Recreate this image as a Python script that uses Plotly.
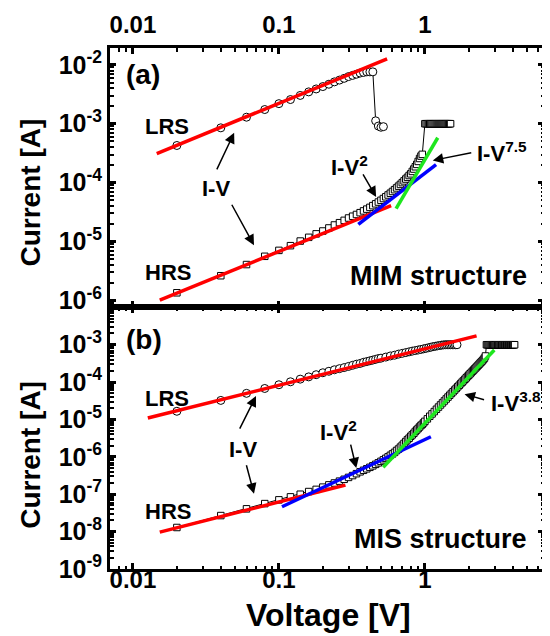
import plotly.graph_objects as go

# ---------------- data ----------------
# Panel (a): MIM structure
a_lrs_v = [0.02, 0.04, 0.06, 0.08, 0.10, 0.12, 0.14, 0.16, 0.18, 0.20, 0.22, 0.24, 0.26,
           0.28, 0.30, 0.32, 0.34, 0.36, 0.38, 0.40, 0.42, 0.44, 0.46, 0.48, 0.50, 0.52]
a_lrs_i = [4.27e-4, 8.51e-4, 1.29e-3, 1.74e-3, 2.19e-3, 2.57e-3, 3.02e-3, 3.47e-3, 3.89e-3,
           4.27e-3, 4.68e-3, 5.13e-3, 5.50e-3, 5.89e-3, 6.31e-3, 6.61e-3, 6.92e-3, 7.24e-3,
           7.41e-3, 7.59e-3, 7.59e-3, 7.59e-3, 1.12e-3, 9.12e-4, 8.71e-4, 8.91e-4]

a_hrs_v = [0.02, 0.04, 0.06, 0.08, 0.10, 0.12, 0.14, 0.16, 0.18, 0.20, 0.22, 0.24, 0.26,
           0.28, 0.30, 0.32, 0.34, 0.36, 0.38, 0.40, 0.42, 0.44, 0.46, 0.48, 0.50, 0.52,
           0.54, 0.56, 0.58, 0.60, 0.62, 0.64, 0.66, 0.68, 0.70, 0.72, 0.74, 0.76, 0.78,
           0.80, 0.82, 0.84, 0.86, 0.88, 0.90, 0.92, 0.94, 0.96,
           1.00, 1.02, 1.04, 1.06, 1.08, 1.10, 1.12, 1.14, 1.16, 1.18, 1.20, 1.22, 1.24,
           1.26, 1.28, 1.30, 1.32, 1.34, 1.36, 1.38, 1.40, 1.42, 1.44, 1.46, 1.48, 1.50]
a_hrs_i = [1.35e-6, 2.63e-6, 4.07e-6, 5.62e-6, 7.08e-6, 8.51e-6, 1.02e-5, 1.18e-5, 1.35e-5,
           1.51e-5, 1.70e-5, 1.91e-5, 2.09e-5, 2.29e-5, 2.51e-5, 2.69e-5, 2.88e-5, 3.09e-5,
           3.31e-5, 3.55e-5, 3.80e-5, 4.07e-5, 4.37e-5, 4.68e-5, 5.01e-5, 5.37e-5, 5.75e-5,
           6.17e-5, 6.61e-5, 7.08e-5, 7.59e-5, 8.13e-5, 8.71e-5, 9.33e-5, 1.00e-4, 1.07e-4,
           1.15e-4, 1.23e-4, 1.32e-4, 1.41e-4, 1.55e-4, 1.70e-4, 1.86e-4, 2.04e-4, 2.29e-4,
           2.57e-4, 2.82e-4, 3.02e-4,
           1.0e-3, 1.0e-3, 1.0e-3, 1.0e-3, 1.0e-3, 1.0e-3, 1.0e-3, 1.0e-3, 1.0e-3, 1.0e-3,
           1.0e-3, 1.0e-3, 1.0e-3, 1.0e-3, 1.0e-3, 1.0e-3, 1.0e-3, 1.0e-3, 1.0e-3, 1.0e-3,
           1.0e-3, 1.0e-3, 1.0e-3, 1.0e-3, 1.0e-3, 1.0e-3]

# fitted power-law lines (end points) for panel (a)
a_fit_lrs_v, a_fit_lrs_i = [0.01456, 0.551], [3.12e-4, 1.26e-2]
a_fit_hrs_v, a_fit_hrs_i = [0.01527, 0.587], [1.01e-6, 4.09e-5]
a_fit_v2_v, a_fit_v2_i = [0.35, 1.193], [1.95e-5, 2.02e-4]
a_fit_v75_v, a_fit_v75_i = [0.635, 1.225], [3.61e-5, 5.78e-4]

# Panel (b): MIS structure
b_lrs_v = [0.02, 0.04, 0.06, 0.08, 0.10, 0.12, 0.14, 0.16, 0.18, 0.20, 0.22, 0.24, 0.26,
           0.28, 0.30, 0.32, 0.34, 0.36, 0.38, 0.40, 0.42, 0.44, 0.46, 0.48, 0.50,
           0.54, 0.58, 0.62, 0.66, 0.70, 0.74, 0.78, 0.82, 0.86, 0.90, 0.94, 0.98, 1.02,
           1.06, 1.10, 1.14, 1.18, 1.22, 1.26, 1.30, 1.34, 1.38, 1.42, 1.46, 1.50, 1.54,
           1.58, 1.62, 1.66]
b_lrs_i = [1.66e-5, 3.24e-5, 5.01e-5, 6.76e-5, 8.51e-5, 1.02e-4, 1.20e-4, 1.38e-4, 1.58e-4,
           1.78e-4, 1.95e-4, 2.14e-4, 2.29e-4, 2.45e-4, 2.63e-4, 2.82e-4, 3.02e-4, 3.16e-4,
           3.39e-4, 3.55e-4, 3.72e-4, 3.89e-4, 4.07e-4, 4.27e-4, 4.37e-4,
           4.68e-4, 5.01e-4, 5.25e-4, 5.62e-4, 5.89e-4, 6.17e-4, 6.46e-4, 6.76e-4, 7.00e-4,
           7.24e-4, 7.50e-4, 7.76e-4, 8.04e-4, 8.32e-4, 8.60e-4, 8.91e-4, 9.12e-4, 9.33e-4,
           9.55e-4, 9.77e-4, 9.89e-4, 1.0e-3, 1.0e-3, 1.0e-3, 1.0e-3, 1.0e-3, 1.0e-3,
           1.0e-3, 1.0e-3]

b_hrs_v = [0.02, 0.04, 0.06, 0.08, 0.10, 0.12, 0.14, 0.16, 0.18, 0.20, 0.22, 0.24, 0.26,
           0.28, 0.30, 0.32, 0.34, 0.36, 0.38, 0.40, 0.42, 0.44, 0.46, 0.48, 0.50, 0.52,
           0.54, 0.56, 0.58, 0.60, 0.62, 0.64, 0.66, 0.68, 0.70, 0.72, 0.74, 0.76, 0.78,
           0.80, 0.82, 0.84, 0.86, 0.88, 0.90, 0.92, 0.94, 0.96, 0.98, 1.00,
           1.04, 1.08, 1.12, 1.16, 1.20, 1.24, 1.28, 1.32, 1.36, 1.40, 1.44, 1.48, 1.52,
           1.56, 1.60, 1.64, 1.68, 1.72, 1.76, 1.80, 1.84, 1.88, 1.92, 1.96, 2.00, 2.04,
           2.08, 2.12, 2.16, 2.20, 2.24, 2.28, 2.32, 2.36, 2.40, 2.44, 2.48, 2.52, 2.56,
           2.60,
           2.64, 2.68, 2.72, 2.76, 2.80, 2.84, 2.88, 2.92, 2.96, 3.00, 3.04, 3.08, 3.12,
           3.16, 3.20, 3.24, 3.28, 3.32, 3.36, 3.40, 3.44, 3.48, 3.52, 3.56, 3.60, 3.64,
           3.68, 3.72, 3.76, 3.80, 3.84, 3.88, 3.92, 3.96, 4.00, 4.04, 4.08, 4.12]
b_hrs_i = [1.29e-8, 2.69e-8, 4.07e-8, 5.62e-8, 7.08e-8, 8.51e-8, 1.00e-7, 1.18e-7, 1.35e-7,
           1.55e-7, 1.78e-7, 2.00e-7, 2.24e-7, 2.51e-7, 2.82e-7, 3.16e-7, 3.55e-7, 3.98e-7,
           4.37e-7, 4.79e-7, 5.25e-7, 5.75e-7, 6.31e-7, 6.92e-7, 7.59e-7, 8.32e-7, 9.12e-7,
           1.00e-6, 1.10e-6, 1.20e-6, 1.32e-6, 1.48e-6, 1.62e-6, 1.82e-6, 2.04e-6, 2.29e-6,
           2.57e-6, 2.88e-6, 3.16e-6, 3.55e-6, 3.89e-6, 4.27e-6, 4.79e-6, 5.25e-6, 5.75e-6,
           6.31e-6, 6.92e-6, 7.41e-6, 8.13e-6, 8.91e-6,
           1.04e-5, 1.22e-5, 1.41e-5, 1.63e-5, 1.88e-5, 2.15e-5, 2.45e-5, 2.78e-5, 3.14e-5,
           3.54e-5, 3.98e-5, 4.46e-5, 4.98e-5, 5.53e-5, 6.14e-5, 6.79e-5, 7.50e-5, 8.26e-5,
           9.10e-5, 9.98e-5, 1.09e-4, 1.19e-4, 1.30e-4, 1.42e-4, 1.54e-4, 1.67e-4, 1.81e-4,
           1.96e-4, 2.11e-4, 2.28e-4, 2.45e-4, 2.64e-4, 2.84e-4, 3.04e-4, 3.27e-4, 3.49e-4,
           3.73e-4, 4.05e-4, 4.40e-4, 5.00e-4,
           1.0e-3, 1.0e-3, 1.0e-3, 1.0e-3, 1.0e-3, 1.0e-3, 1.0e-3, 1.0e-3, 1.0e-3, 1.0e-3,
           1.0e-3, 1.0e-3, 1.0e-3, 1.0e-3, 1.0e-3, 1.0e-3, 1.0e-3, 1.0e-3, 1.0e-3, 1.0e-3,
           1.0e-3, 1.0e-3, 1.0e-3, 1.0e-3, 1.0e-3, 1.0e-3, 1.0e-3, 1.0e-3, 1.0e-3, 1.0e-3,
           1.0e-3, 1.0e-3, 1.0e-3, 1.0e-3, 1.0e-3, 1.0e-3, 1.0e-3, 1.0e-3]

b_fit_lrs_v, b_fit_lrs_i = [0.01265, 2.26], [1.10e-5, 1.73e-3]
b_fit_hrs_v, b_fit_hrs_i = [0.01527, 0.2857], [9.7e-9, 1.76e-7]
b_fit_v2_v, b_fit_v2_i = [0.105, 1.099], [4.62e-8, 3.45e-6]
b_fit_v38_v, b_fit_v38_i = [0.518, 2.99], [5.25e-7, 7.24e-4]

# tick labels
x_tick_vals = [0.01, 0.1, 1]
x_tick_text = ["0.01", "0.1", "1"]
ya_tick_vals = [1e-6, 1e-5, 1e-4, 1e-3, 1e-2]
ya_tick_text = ["10<sup>-6</sup>", "10<sup>-5</sup>", "10<sup>-4</sup>", "10<sup>-3</sup>", "10<sup>-2</sup>"]
yb_tick_vals = [1e-9, 1e-8, 1e-7, 1e-6, 1e-5, 1e-4, 1e-3]
yb_tick_text = ["10<sup>-9</sup>", "10<sup>-8</sup>", "10<sup>-7</sup>", "10<sup>-6</sup>",
                "10<sup>-5</sup>", "10<sup>-4</sup>", "10<sup>-3</sup>"]

# ---------------- figure ----------------
# the page adds an 8px body margin, so the figure is laid out 8px up/left
OFF = 8
W, H = 550 - OFF, 636 - OFF
REF_L, REF_R, REF_T, REF_B = 110, 547, 41, 569.3   # plot box in screenshot pixels
ML, MT = REF_L - OFF, REF_T - OFF
MR, MB = W - (REF_R - OFF), H - (REF_B - OFF)
PW, PH = REF_R - REF_L, REF_B - REF_T
SPLIT = (REF_B - 304) / PH

FONT = "Liberation Sans, Arial, sans-serif"
RED, BLUE, GREEN = "#ff0000", "#0000ff", "#1ee61e"

fig = go.Figure()


def data_trace(v, i, symbol, size, xa, ya):
    fig.add_trace(go.Scatter(
        x=v, y=i, mode="lines+markers", xaxis=xa, yaxis=ya,
        line=dict(color="black", width=1),
        marker=dict(symbol=symbol, size=size, color="white",
                    line=dict(color="black", width=1)),
        showlegend=False, hoverinfo="skip"))


def fit_trace(v, i, color, xa, ya):
    fig.add_trace(go.Scatter(
        x=v, y=i, mode="lines", xaxis=xa, yaxis=ya,
        line=dict(color=color, width=3.5), showlegend=False, hoverinfo="skip"))


data_trace(a_lrs_v, a_lrs_i, "circle", 8, "x", "y")
data_trace(a_hrs_v, a_hrs_i, "square", 6.5, "x", "y")
fit_trace(a_fit_lrs_v, a_fit_lrs_i, RED, "x", "y")
fit_trace(a_fit_hrs_v, a_fit_hrs_i, RED, "x", "y")
fit_trace(a_fit_v2_v, a_fit_v2_i, BLUE, "x", "y")
fit_trace(a_fit_v75_v, a_fit_v75_i, GREEN, "x", "y")

data_trace(b_lrs_v, b_lrs_i, "circle", 8, "x2", "y2")
data_trace(b_hrs_v, b_hrs_i, "square", 6.5, "x2", "y2")
fit_trace(b_fit_lrs_v, b_fit_lrs_i, RED, "x2", "y2")
fit_trace(b_fit_hrs_v, b_fit_hrs_i, RED, "x2", "y2")
fit_trace(b_fit_v2_v, b_fit_v2_i, BLUE, "x2", "y2")
fit_trace(b_fit_v38_v, b_fit_v38_i, GREEN, "x2", "y2")


def minor_vals(lo_exp, hi_exp):
    return [m * 10.0 ** k for k in range(lo_exp, hi_exp + 1) for m in range(2, 10)]


def tickfont(size):
    return dict(family=FONT, size=size, color="black", weight="bold")


def axis_style(tickvals, ticktext, minor, rng, fsize=24, **kw):
    d = dict(type="log", range=rng, tickmode="array", tickvals=tickvals, ticktext=ticktext,
             showline=True, linewidth=3, linecolor="black", mirror="ticks",
             ticks="inside", ticklen=6, tickwidth=2.5, tickcolor="black",
             tickfont=tickfont(fsize), showgrid=False, zeroline=False,
             minor=dict(tickmode="array", tickvals=minor, ticks="inside", ticklen=3.5,
                        tickwidth=2, tickcolor="black", showgrid=False))
    d.update(kw)
    return d


xr = [-2.157, 0.816]
fig.update_layout(
    width=W, height=H, margin=dict(l=ML, r=MR, t=MT, b=MB),
    paper_bgcolor="white", plot_bgcolor="white",
    xaxis=axis_style(x_tick_vals, x_tick_text, minor_vals(-3, 1), xr,
                     side="top", anchor="y", domain=[0, 1], ticklabelstandoff=2),
    xaxis2=axis_style(x_tick_vals, x_tick_text, minor_vals(-3, 1), xr,
                      side="bottom", anchor="y2", domain=[0, 1], ticklabelstandoff=-13),
    yaxis=axis_style(ya_tick_vals, ya_tick_text, minor_vals(-7, -2), [-6.117, -1.715],
                     fsize=25, anchor="x", domain=[SPLIT, 1], ticklabelstandoff=0),
    yaxis2=axis_style(yb_tick_vals, yb_tick_text, minor_vals(-10, -3), [-9, -2],
                      fsize=25, anchor="x2", domain=[0, SPLIT], ticklabelstandoff=0),
)


def PX(x):  # screenshot x -> paper fraction
    return (x - REF_L) / PW


def PY(y):  # screenshot y -> paper fraction
    return (REF_B - y) / PH


def label(text, x, y, size=22, xanchor="center", angle=0):
    fig.add_annotation(text=text, x=PX(x), y=PY(y), xref="paper", yref="paper",
                       xanchor=xanchor, yanchor="middle", showarrow=False, textangle=angle,
                       font=dict(family=FONT, size=size, color="black", weight="bold"))


def arrow(tail, head):
    fig.add_annotation(text="", x=PX(head[0]), y=PY(head[1]), xref="paper", yref="paper",
                       ax=tail[0] - head[0], ay=tail[1] - head[1],
                       showarrow=True, arrowhead=2, arrowsize=1.4, arrowwidth=1.5,
                       arrowcolor="black", standoff=0, startstandoff=0)


# panel (a)
label("(a)", 143.5, 67.5, size=28)
label("LRS", 167, 121)
label("I-V", 216.5, 183.5)
label("HRS", 168.5, 268.5)
label("I-V<sup>2</sup>", 351, 161)
label("I-V<sup>7.5</sup>", 478, 146, xanchor="left")
label("MIM structure", 532, 272, size=27, xanchor="right")
arrow((217, 165), (235, 127))
arrow((232, 199), (255, 241))
arrow((364, 168), (378, 192))
arrow((475, 147), (435, 155))

# panel (b)
label("(b)", 144, 336.5, size=28)
label("LRS", 167.5, 396.5)
label("I-V", 244, 448.5)
label("HRS", 168.5, 511.5)
label("I-V<sup>2</sup>", 340, 429)
label("I-V<sup>3.8</sup>", 492, 400, xanchor="left")
label("MIS structure", 532, 539, size=27, xanchor="right")
arrow((240, 428), (257, 394))
arrow((247, 463), (255, 493))
arrow((352, 442), (358, 467))
arrow((488, 398), (467, 392))

# axis titles
label("Current [A]", 30, 188, size=28, angle=-90)
label("Current [A]", 30, 454, size=28, angle=-90)
label("Voltage [V]", 330, 616, size=32)

fig.write_html("out.html")
